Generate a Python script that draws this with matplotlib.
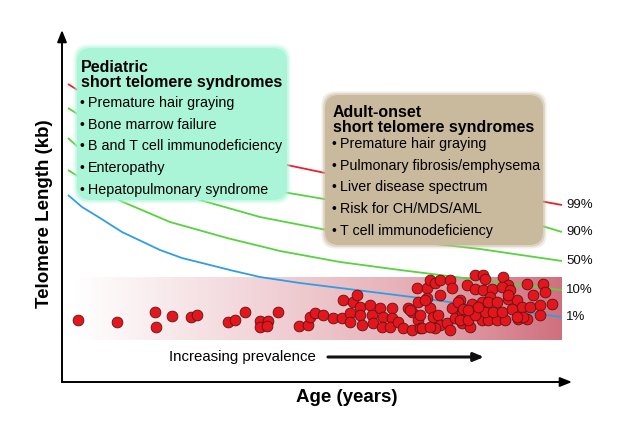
import numpy as np
import matplotlib.pyplot as plt
from matplotlib.patches import FancyBboxPatch
from matplotlib.colors import LinearSegmentedColormap

plt.rcParams['font.family'] = ['Liberation Sans', 'DejaVu Sans']

# percentile curves (age in years, telomere length in kb)
age_99 = [1.2, 3.4, 11.6, 21.6, 33.6, 45.0, 53.6, 67.6, 81.6, 95.6, 100]
tl_99 = [11.92, 11.64, 10.76, 10.0, 9.24, 8.68, 8.32, 7.84, 7.52, 7.24, 7.08]
age_90 = [1.2, 3.4, 13.6, 27.6, 37.6, 44.2, 53.6, 67.6, 81.6, 96.0, 100]
tl_90 = [10.96, 10.68, 9.68, 8.68, 8.08, 7.6, 7.28, 6.88, 6.56, 6.24, 6.0]
age_50 = [1.2, 3.4, 11.6, 19.6, 29.0, 39.6, 53.0, 67.6, 83.6, 100]
tl_50 = [9.76, 9.36, 8.4, 7.76, 7.2, 6.6, 6.08, 5.68, 5.32, 4.84]
age_10 = [1.2, 3.4, 7.6, 12.2, 21.6, 33.0, 43.6, 55.6, 67.6, 83.6, 100]
tl_10 = [8.48, 8.2, 7.68, 7.2, 6.4, 5.76, 5.24, 4.8, 4.48, 4.08, 3.68]
age_1 = [1.2, 4.0, 7.6, 12.0, 19.6, 24.0, 29.6, 34.0, 39.6, 47.6, 55.6, 71.6, 87.6, 100]
tl_1 = [7.48, 7.0, 6.56, 6.0, 5.28, 4.96, 4.68, 4.46, 4.2, 3.96, 3.76, 3.36, 2.92, 2.6]

curve_labels = ['99%', '90%', '50%', '10%', '1%']
curve_colors = ['#e8222b', '#55d43c', '#55d43c', '#55d43c', '#2f9ee6']

# patients with short telomere syndromes
patient_age = [
    3.2, 11.0, 18.6, 18.8, 22.0, 25.8, 27.0, 33.2, 34.6, 36.6, 39.6, 41.2, 39.6, 41.0,
    43.2, 47.4, 49.2, 49.6, 50.6, 52.2, 54.2, 56.0, 56.2, 57.6, 57.6, 58.2, 59.0,
    59.6, 59.6, 60.0, 61.6, 62.0, 62.2, 63.6, 64.2, 64.0, 66.0, 66.0, 65.6, 67.2,
    68.2, 70.0, 70.0, 71.2, 71.2, 71.6, 71.0, 73.0, 73.6, 74.6, 75.6, 77.6, 78.0,
    73.0, 73.6, 74.2, 75.6, 75.2, 75.6, 74.6, 77.0, 78.0, 78.6, 79.6, 80.0, 80.0,
    69.2, 72.0, 73.6, 69.6, 72.6, 71.6, 77.6, 81.6,
    82.6, 84.2, 84.6, 88.2, 89.2, 93.0, 96.2, 81.0, 82.6, 84.2, 86.0, 88.0, 85.6,
    89.6, 94.2, 96.6, 98.0, 79.2, 80.2, 82.0, 84.0, 85.2, 87.0, 89.2, 91.0, 92.0,
    93.6, 95.6, 95.6, 79.6, 81.2, 84.0, 85.2, 87.0, 88.6, 91.2, 93.0, 84.6, 86.2,
    88.0, 90.0, 82.6, 81.2, 83.2, 92.2, 91.0, 89.2,
]
patient_tl = [
    2.48, 2.40, 2.80, 2.20, 2.64, 2.60, 2.68, 2.40, 2.48, 2.80, 2.44, 2.44, 2.20, 2.24,
    2.80, 2.24, 2.28, 2.60, 2.76, 2.68, 2.56, 2.56, 3.28, 2.76, 2.40, 3.20, 3.48,
    3.00, 2.68, 2.28, 3.08, 2.68, 2.36, 2.96, 2.60, 2.20, 2.96, 2.56, 2.20, 2.40,
    2.16, 2.80, 2.08, 3.20, 2.48, 2.16, 3.76, 3.76, 4.08, 3.96, 4.08, 4.08, 3.76,
    3.36, 2.96, 2.60, 3.48, 2.68, 2.28, 2.16, 2.36, 2.96, 2.56, 3.28, 2.80, 2.36,
    2.96, 2.16, 2.20, 2.88, 3.28, 2.68, 2.08, 2.20,
    4.28, 4.28, 4.12, 4.20, 3.88, 3.92, 3.92, 3.88, 3.72, 3.68, 3.72, 3.80, 3.40,
    3.68, 3.48, 3.60, 3.12, 3.20, 2.92, 3.12, 3.20, 3.20, 3.20, 3.32, 3.28, 3.00,
    3.00, 3.08, 2.68, 2.48, 2.48, 2.48, 2.48, 2.48, 2.48, 2.52, 2.52, 2.80, 2.80,
    2.80, 2.92, 2.68, 2.88, 3.00, 2.60, 2.60, 3.48,
]

pediatric_title = ['Pediatric', 'short telomere syndromes']
pediatric_items = ['Premature hair graying', 'Bone marrow failure',
                   'B and T cell immunodeficiency', 'Enteropathy',
                   'Hepatopulmonary syndrome']
adult_title = ['Adult-onset', 'short telomere syndromes']
adult_items = ['Premature hair graying', 'Pulmonary fibrosis/emphysema',
               'Liver disease spectrum', 'Risk for CH/MDS/AML',
               'T cell immunodeficiency']

fig = plt.figure(figsize=(6.4, 4.4), dpi=100)
ax = fig.add_axes([62 / 640, 58 / 440, 510 / 640, 352 / 440])
ax.set_axis_off()

# shaded band where the patients sit
band_cmap = LinearSegmentedColormap.from_list(
    'band', ['#ffffff', '#f3d9dd', '#e6b2b9', '#d0707e'])
ax.imshow(np.linspace(0, 1, 256).reshape(1, -1), extent=[2.6, 100, 1.68, 4.16],
          aspect='auto', cmap=band_cmap, zorder=0)

curves = [(age_99, tl_99), (age_90, tl_90), (age_50, tl_50),
          (age_10, tl_10), (age_1, tl_1)]
for (a, t), lab, col in zip(curves, curve_labels, curve_colors):
    ax.plot(a, t, color=col, lw=1.3, zorder=2, solid_capstyle='butt')
    ax.text(a[-1] + 0.8, t[-1], lab, va='center', ha='left', fontsize=9.5,
            color='#111111')

ax.scatter(patient_age, patient_tl, s=60, c='#e3161d', edgecolors='#5e1212',
           linewidths=0.6, zorder=4)

ax.set_xlim(0, 102)
ax.set_ylim(0, 14.08)

# axis arrows
arrow_kw = dict(arrowstyle='-|>,head_length=0.7,head_width=0.28', color='black',
                lw=1.4, shrinkA=0, shrinkB=0)
ax.annotate('', xy=(0, 1), xytext=(0, 0), xycoords='axes fraction',
            arrowprops=arrow_kw)
ax.annotate('', xy=(1, 0), xytext=(0, 0), xycoords='axes fraction',
            arrowprops=arrow_kw)

ax.text(21.4, 1.0, 'Increasing prevalence', va='center', ha='left', fontsize=10.8)
ax.annotate('', xy=(84.4, 1.0), xytext=(53.2, 1.0),
            arrowprops=dict(arrowstyle='-|>,head_length=0.6,head_width=0.25',
                            color='#111111', lw=2.2, shrinkA=0, shrinkB=0))

fig.text(45 / 640, 1 - 214 / 440, 'Telomere Length (kb)', rotation=90,
         ha='center', va='center', fontsize=13.5, fontweight='bold')
fig.text(347 / 640, 1 - 397 / 440, 'Age (years)', ha='center', va='center',
         fontsize=13.5, fontweight='bold')


# text boxes, placed in inches from the lower-left corner
def draw_box(x0, y0, w, h, color, title, items, tx, ty, by):
    for pad, alpha in [(0.035, 0.25), (0.018, 0.5)]:
        ax.add_patch(FancyBboxPatch((x0, y0), w, h,
                                    boxstyle=f'round,pad={pad},rounding_size=0.14',
                                    transform=fig.dpi_scale_trans, fc=color,
                                    ec='none', alpha=alpha, zorder=5, clip_on=False))
    ax.add_patch(FancyBboxPatch((x0, y0), w, h,
                                boxstyle='round,pad=0,rounding_size=0.14',
                                transform=fig.dpi_scale_trans, fc=color,
                                ec='none', zorder=5, clip_on=False))
    for i, line in enumerate(title):
        ax.text(tx + 0.01, ty - i * 0.15, line, transform=fig.dpi_scale_trans,
                fontsize=11.5, fontweight='bold', ha='left', va='baseline', zorder=6)
    for i, item in enumerate(items):
        yb = by - i * 0.217
        ax.text(tx, yb, '\u2022', transform=fig.dpi_scale_trans, fontsize=10,
                ha='left', va='baseline', zorder=6)
        ax.text(tx + 0.075, yb, item, transform=fig.dpi_scale_trans,
                fontsize=10.3, ha='left', va='baseline', zorder=6)


draw_box(0.77, 2.40, 2.10, 1.52, '#aaf5d8', pediatric_title, pediatric_items,
         0.80, 4.40 - 0.715, 4.40 - 1.07)
draw_box(3.25, 1.95, 2.18, 1.50, '#c9b99d', adult_title, adult_items,
         3.32, 4.40 - 1.17, 4.40 - 1.48)

fig.savefig('out.png', dpi=100)
